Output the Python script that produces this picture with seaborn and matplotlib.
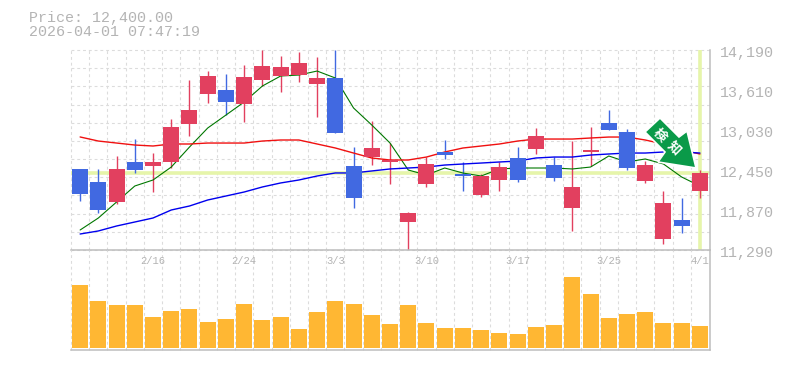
import matplotlib
matplotlib.use("Agg")
import matplotlib.pyplot as plt
from matplotlib.patches import Polygon
import numpy as np
import pandas as pd
import seaborn as sns

# -----------------------------
# DATA
# -----------------------------
PRICE_NOW = 12400
TITLE_TIME = "2026-04-01 07:47:19"
DATE_LABELS = ["2/16", "2/24", "3/3", "3/10", "3/17", "3/25", "4/1"]
DATE_POS = [4, 9, 14, 19, 24, 29, 34]
PRICE_TICKS = [14190, 13610, 13030, 12450, 11870, 11290]

opens = [12465, 12276, 11986, 12566, 12508, 12566, 13117, 13552, 13610, 13407, 13755, 13813, 13827, 13697, 13784, 12508,
         12638, 12566, 11696, 12247, 12711, 12392, 12088, 12305, 12624, 12754, 12522, 11899, 12711, 13131, 13001, 12290,
         11450, 11725, 12146]
closes = [12102, 11870, 12465, 12450, 12566, 13073, 13320, 13813, 13436, 13798, 13958, 13943, 14001, 13784, 12986, 12044,
          12769, 12595, 11827, 12537, 12667, 12363, 12363, 12493, 12305, 12943, 12334, 12203, 12740, 13030, 12479, 12522,
          11971, 11638, 12400]
highs = [12465, 12465, 12653, 12900, 12696, 13189, 13755, 13885, 13842, 13972, 14190, 14103, 14161, 14088, 14190, 12783,
         13160, 12841, 11841, 12638, 12885, 12566, 12392, 12566, 12783, 13059, 12638, 12870, 13073, 13320, 13044, 12580,
         12146, 12044, 12450]
lows = [12000, 11827, 11957, 12406, 12131, 12479, 12943, 13421, 13247, 13146, 13668, 13581, 13726, 13218, 12986, 11899,
        12522, 12247, 11290, 12203, 12609, 12146, 12059, 12146, 12276, 12682, 12290, 11565, 12508, 13030, 12450, 12261,
        11377, 11537, 12044]
ma_short = [11580, 11754, 11986, 12218, 12305, 12493, 12783, 13059, 13247, 13436, 13668, 13813, 13827, 13885, 13784, 13349,
            13102, 12841, 12450, 12377, 12479, 12406, 12363, 12465, 12479, 12479, 12479, 12465, 12493, 12653, 12566, 12610,
            12537, 12348, 12218]
ma_mid = [12929, 12870, 12841, 12812, 12798, 12827, 12827, 12841, 12841, 12841, 12870, 12885, 12885, 12827, 12769, 12696,
          12624, 12595, 12595, 12638, 12711, 12769, 12798, 12827, 12870, 12899, 12899, 12899, 12914, 12928, 12928, 12885,
          12827, 12740, 12682]
ma_long = [11522, 11566, 11638, 11696, 11754, 11870, 11928, 12015, 12073, 12131, 12204, 12262, 12305, 12363, 12407, 12407,
           12436, 12465, 12479, 12493, 12522, 12537, 12551, 12566, 12580, 12624, 12638, 12638, 12667, 12682, 12696, 12696,
           12711, 12711, 12696]
volumes = [63, 47, 43, 43, 31, 37, 39, 26, 29, 44, 28, 31, 19, 36, 47, 44, 33, 24,
           43, 25, 20, 20, 18, 15, 14, 21, 23, 71, 54, 30, 34, 36, 25, 25, 22]

# -----------------------------
# CONFIGURATION
# -----------------------------
W, H = 785, 370
LEFT, RIGHT, TOP, MID, BOTTOM = 71, 710, 50, 250, 350
STEP = 18.23
RED, BLUE, ORANGE = "#E2405F", "#4169E1", "#FFB733"
GUIDE, GRID, EDGE, TXT = "#E6F5AA", "#DCDCDC", "#BDBDBD", "#B4B4B4"
MONO = "Liberation Mono"
DASH = (0, (2.6, 2.6))

sns.set_theme(style="white")
plt.rcParams['font.family'] = [MONO, 'Noto Sans CJK JP', 'DejaVu Sans']

days = np.arange(len(opens))
x_max = -0.5 + (RIGHT - LEFT) / STEP
fig = plt.figure(figsize=(W / 100, H / 100), dpi=100, facecolor="white")
ax = fig.add_axes([LEFT / W, 1 - MID / H, (RIGHT - LEFT) / W, (MID - TOP) / H])
ax_vol = fig.add_axes([LEFT / W, 1 - BOTTOM / H, (RIGHT - LEFT) / W, (BOTTOM - MID) / H])


def style_panel(a):
    a.set_xlim(-0.5, x_max)
    a.set_axisbelow(True)
    a.set_facecolor("none")
    a.tick_params(length=0)
    a.set_xticks(days - 0.5)
    a.set_xticklabels([])
    a.grid(axis="x", color=GRID, linestyle=DASH, linewidth=0.8)
    for line in a.get_xgridlines():
        line.set_clip_on(False)
    a.set_xlabel("")
    a.set_ylabel("")
    for side in ("top", "left"):
        a.spines[side].set_visible(False)
    for side in ("bottom", "right"):
        a.spines[side].set_color(EDGE)
        a.spines[side].set_linewidth(1.1)


# -----------------------------
# PRICE PANEL
# -----------------------------
ax.axhline(PRICE_NOW, color=GUIDE, linewidth=2.6, zorder=1)
ax.axvline(days[-1], color=GUIDE, linewidth=2.6, zorder=1)

up = np.array(closes) >= np.array(opens)
colors = [RED if u else BLUE for u in up]
ax.vlines(days, lows, highs, colors=colors, linewidth=1.0, zorder=2)
body_low = np.minimum(opens, closes)
body_h = np.abs(np.array(closes) - np.array(opens))
ax.bar(days, body_h, bottom=body_low, width=16 / STEP, color=colors, linewidth=0, zorder=3)

lines = pd.DataFrame({"day": days, "short": ma_short, "mid": ma_mid, "long": ma_long})
sns.lineplot(data=lines, x="day", y="short", color="#007700", linewidth=0.8, ax=ax, zorder=2.5)
sns.lineplot(data=lines, x="day", y="mid", color="#F01010", linewidth=1.0, ax=ax, zorder=2.5)
sns.lineplot(data=lines, x="day", y="long", color="#0000EE", linewidth=1.0, ax=ax, zorder=2.5)

style_panel(ax)
ax.set_ylim(PRICE_TICKS[-1], PRICE_TICKS[0])
ax.set_yticks(np.linspace(PRICE_TICKS[-1], PRICE_TICKS[0], 12))
ax.set_yticklabels([])
ax.grid(axis="y", color=GRID, linestyle=DASH, linewidth=0.8)
for line in ax.get_ygridlines():
    line.set_clip_on(False)

# signal arrow, placed in pixels
arrow_px = [(660, 118), (645, 132), (665, 152), (658, 162), (696, 168), (687, 131), (679, 137)]
arrow_xy = [(x / W, 1 - y / H) for x, y in arrow_px]
fig.add_artist(Polygon(arrow_xy, closed=True, transform=fig.transFigure, facecolor="#0A9A49",
                       edgecolor="white", linewidth=1.2, zorder=5))
fig.text(660 / W, 1 - 135 / H, "検", color="white", fontsize=9.5, fontweight="bold", rotation=-45,
         rotation_mode="anchor", ha="center", va="center", family=["Noto Sans CJK JP"], zorder=6)
fig.text(674 / W, 1 - 148 / H, "知", color="white", fontsize=9.5, fontweight="bold", rotation=-45,
         rotation_mode="anchor", ha="center", va="center", family=["Noto Sans CJK JP"], zorder=6)

# -----------------------------
# VOLUME PANEL
# -----------------------------
vol = pd.DataFrame({"day": days, "volume": volumes})
sns.barplot(data=vol, x="day", y="volume", color=ORANGE, saturation=1, width=16 / STEP,
            native_scale=True, ax=ax_vol, zorder=3, linewidth=0)
style_panel(ax_vol)
ax_vol.set_ylim(-2, 98)
ax_vol.set_yticks([])

# -----------------------------
# TEXT
# -----------------------------
fig.text(29 / W, 1 - 18 / H, f"Price: {PRICE_NOW:,.2f}", color=TXT, fontsize=10.8, va="center", ha="left")
fig.text(29 / W, 1 - 32 / H, TITLE_TIME, color=TXT, fontsize=10.8, va="center", ha="left")
for p in PRICE_TICKS:
    y_px = TOP + (PRICE_TICKS[0] - p) / (PRICE_TICKS[0] - PRICE_TICKS[-1]) * (MID - TOP)
    fig.text(720 / W, 1 - (y_px + 3.5) / H, f"{p:,}", color=TXT, fontsize=10.8, va="center", ha="left")
for pos, lab in zip(DATE_POS, DATE_LABELS):
    x_px = LEFT + (pos + 0.5) * STEP
    fig.text(x_px / W, 1 - 261 / H, lab, color=TXT, fontsize=7.6, va="center", ha="center")

fig.savefig("out.png", dpi=100)
